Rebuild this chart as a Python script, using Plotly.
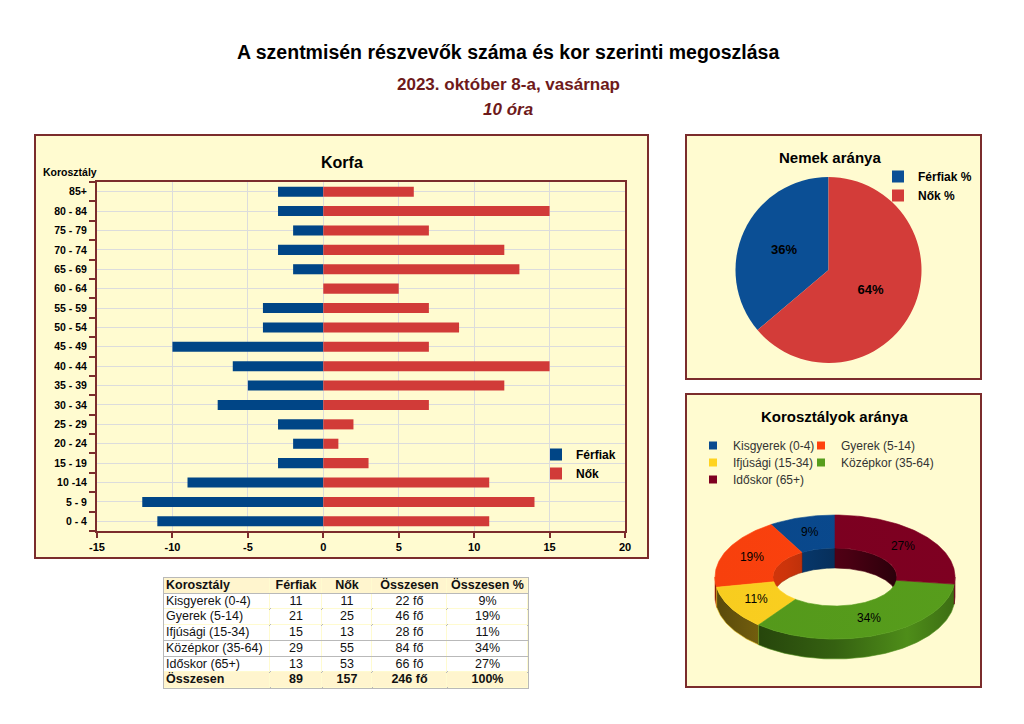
import numpy as np
import plotly.graph_objects as go

# ---------------- DATA ----------------
age_groups = ['0 - 4', '5 - 9', '10 -14', '15 - 19', '20 - 24', '25 - 29', '30 - 34',
              '35 - 39', '40 - 44', '45 - 49', '50 - 54', '55 - 59', '60 - 64',
              '65 - 69', '70 - 74', '75 - 79', '80 - 84', '85+']
men_by_age = [11, 12, 9, 3, 2, 3, 7, 5, 6, 10, 4, 4, 0, 2, 3, 2, 3, 3]
women_by_age = [11, 14, 11, 3, 1, 2, 7, 12, 15, 7, 9, 7, 5, 13, 12, 7, 15, 6]
x_tick_values = [-15, -10, -5, 0, 5, 10, 15, 20]

gender_labels = ['Férfiak %', 'Nők %']

cohort_labels = ['Kisgyerek (0-4)', 'Gyerek (5-14)', 'Ifjúsági (15-34)',
                 'Középkor (35-64)', 'Időskor (65+)']
cohort_men = [11, 21, 15, 29, 13]
cohort_women = [11, 25, 13, 55, 53]

table_header = ['Korosztály', 'Férfiak', 'Nők', 'Összesen', 'Összesen %']
total_label = 'Összesen'

# ---------------- STYLE ----------------
W, H = 1024, 724
FONT = 'Liberation Sans'
PANEL_FILL = '#fffbd0'
PANEL_LINE = '#7b2c2c'
GRID = '#dcdcdc'
PYR_BLUE = '#004586'
PYR_RED = '#d13b38'
PIE_COLORS = ['#0b4f95', '#d33c39']
DONUT_COLORS = ['#0a4a8f', '#ff420e', '#ffd320', '#579d1c', '#7e0021']
TABLE_COL_WIDTHS = [106, 52, 50, 75, 81]
TABLE_LINE = '#b9b9b9'
TABLE_HILITE = '#fff5ce'


def px(x):
    return x / W


def py(y):
    return 1 - y / H


def shade(hexc, f):
    r, g, b = int(hexc[1:3], 16), int(hexc[3:5], 16), int(hexc[5:7], 16)
    return 'rgb(%d,%d,%d)' % (min(255, r * f), min(255, g * f), min(255, b * f))


fig = go.Figure()

# ---------------- PYRAMID ----------------
yidx = list(range(len(age_groups)))
fig.add_trace(go.Bar(y=yidx, x=[-v for v in men_by_age], orientation='h', name='Férfiak',
                     marker=dict(color=PYR_BLUE, line=dict(width=0)), legend='legend',
                     hoverinfo='skip'))
fig.add_trace(go.Bar(y=yidx, x=women_by_age, orientation='h', name='Nők',
                     marker=dict(color=PYR_RED, line=dict(width=0)), legend='legend',
                     hoverinfo='skip'))

# ---------------- GENDER PIE ----------------
gender_totals = [sum(cohort_men), sum(cohort_women)]
men_share = gender_totals[0] / sum(gender_totals)
pie_cx, pie_cy, pie_r = 828.5, 270, 93
fig.add_trace(go.Pie(labels=gender_labels, values=gender_totals, sort=False,
                     direction='clockwise', rotation=-360 * men_share,
                     marker=dict(colors=PIE_COLORS, line=dict(width=0)),
                     texttemplate='%{percent:.0%}', textposition='inside',
                     insidetextorientation='horizontal',
                     textfont=dict(size=13, color='black', family=FONT, weight='bold'),
                     domain=dict(x=[px(pie_cx - pie_r), px(pie_cx + pie_r)],
                                 y=[py(pie_cy + pie_r), py(pie_cy - pie_r)]),
                     legend='legend2', hoverinfo='skip'))

# ---------------- 3D DONUT (drawn on xaxis2/yaxis2) ----------------
cohort_totals = [m + w for m, w in zip(cohort_men, cohort_women)]
grand_total = sum(cohort_totals)
shares = [t / grand_total for t in cohort_totals]
cum = np.concatenate([[0], np.cumsum(shares)])
starts = 90 + 360 * cum[:-1]
ends = 90 + 360 * cum[1:]

A, B = 120, 62      # outer ellipse semi-axes (px)
AH, BH = 62, 29     # hole ellipse semi-axes (px)
DEPTH = 20
CY = 8


def arc(t1, t2, rx, ry, dy=0.0):
    n = max(3, int(abs(t2 - t1) / 1.0) + 2)
    ts = np.radians(np.linspace(t1, t2, n))
    return rx * np.cos(ts), CY + ry * np.sin(ts) + dy


def intervals(ts, te, lo, hi):
    out = []
    for k in (-1, 0, 1, 2):
        a, b = max(ts, lo + 360 * k), min(te, hi + 360 * k)
        if b > a:
            out.append((a, b))
    return out


def poly_trace(x, y, grad):
    return go.Scatter(x=np.append(x, x[0]), y=np.append(y, y[0]), mode='lines',
                      fill='toself', line=dict(width=0.6, color=grad[len(grad) // 2][1]),
                      fillgradient=dict(type='horizontal', colorscale=grad, start=-A, stop=A),
                      xaxis='x2', yaxis='y2', showlegend=False, hoverinfo='skip')


# outer walls (front half)
for c, ts, te in zip(DONUT_COLORS, starts, ends):
    for a, b in intervals(ts, te, 180, 360):
        x1, y1 = arc(a, b, A, B)
        x2, y2 = arc(b, a, A, B, -DEPTH)
        grad = [[0, shade(c, 0.35)], [0.5, shade(c, 0.62)], [0.8, shade(c, 0.9)], [1, shade(c, 0.7)]]
        fig.add_trace(poly_trace(np.concatenate([x1, x2]), np.concatenate([y1, y2]), grad))

# inner walls (back half of the hole)
for c, ts, te in zip(DONUT_COLORS, starts, ends):
    for a, b in intervals(ts, te, 0, 180):
        x1, y1 = arc(a, b, AH, BH)
        x2, y2 = arc(b, a, AH, BH, -DEPTH)
        grad = [[0, shade(c, 0.9)], [0.3, shade(c, 0.8)], [0.55, shade(c, 0.6)], [0.75, shade(c, 0.35)], [1, shade(c, 0.3)]]
        fig.add_trace(poly_trace(np.concatenate([x1, x2]), np.concatenate([y1, y2]), grad))

# top faces
for c, ts, te in zip(DONUT_COLORS, starts, ends):
    x1, y1 = arc(ts, te, A, B)
    x2, y2 = arc(te, ts, AH, BH)
    grad = [[0, shade(c, 0.97)], [1, shade(c, 1.0)]]
    fig.add_trace(poly_trace(np.concatenate([x1, x2]), np.concatenate([y1, y2]), grad))

# labels
mids = np.radians((starts + ends) / 2)
fig.add_trace(go.Scatter(x=(A + AH) / 2 * np.cos(mids), y=CY + (B + BH) / 2 * np.sin(mids),
                         mode='text', text=['%d%%' % round(s * 100) for s in shares],
                         textfont=dict(size=12, color='black', family=FONT),
                         xaxis='x2', yaxis='y2', showlegend=False, hoverinfo='skip'))

# legend entries for donut: one small legend per entry, laid out in two columns
donut_legend_ids = ['legend%d' % (3 + i) for i in range(len(cohort_labels))]
for c, lab, lid in zip(DONUT_COLORS, cohort_labels, donut_legend_ids):
    fig.add_trace(go.Scatter(x=[None], y=[None], mode='markers', name=lab,
                             marker=dict(symbol='square', size=8, color=c),
                             xaxis='x2', yaxis='y2', legend=lid, hoverinfo='skip'))

# ---------------- TABLE (drawn on xaxis3/yaxis3) ----------------
men_total = sum(cohort_men)
women_total = sum(cohort_women)
rows = [table_header]
for lab, m, w, t in zip(cohort_labels, cohort_men, cohort_women, cohort_totals):
    rows.append([lab, str(m), str(w), '%d fő' % t, '%d%%' % round(100 * t / grand_total)])
rows.append([total_label, str(men_total), str(women_total), '%d fő' % grand_total,
             '%d%%' % round(100 * grand_total / grand_total)])
nrows = len(rows)
bold_rows = {0, nrows - 1}
col_edges = np.concatenate([[0], np.cumsum(TABLE_COL_WIDTHS)])
col_mid = (col_edges[:-1] + col_edges[1:]) / 2

# cell backgrounds
zfill = [[1 if r in bold_rows else 0 for _ in TABLE_COL_WIDTHS] for r in range(nrows)]
fig.add_trace(go.Heatmap(z=zfill, x=col_edges, y=np.arange(nrows + 1) - 0.5,
                         colorscale=[[0, 'white'], [1, TABLE_HILITE]], zmin=0, zmax=1,
                         xgap=1, ygap=1,
                         showscale=False, xaxis='x3', yaxis='y3', hoverinfo='skip'))
# cell texts
for ci in range(len(TABLE_COL_WIDTHS)):
    texts = [('<b>%s</b>' % rows[r][ci]) if r in bold_rows else rows[r][ci] for r in range(nrows)]
    left = ci == 0
    fig.add_trace(go.Scatter(
        x=[col_edges[ci] + 2 if left else col_mid[ci]] * nrows, y=list(range(nrows)),
        mode='text', text=texts, textposition='middle right' if left else 'middle center',
        textfont=dict(size=12.5, color='#111111', family=FONT),
        xaxis='x3', yaxis='y3', showlegend=False, hoverinfo='skip'))

# ---------------- LAYOUT ----------------
shapes = []
for (x0, y0, x1, y1) in [(35, 135, 648, 558), (686, 135, 981, 379), (686, 394, 981, 687)]:
    shapes.append(dict(type='rect', xref='paper', yref='paper', x0=px(x0), x1=px(x1),
                       y0=py(y1), y1=py(y0), fillcolor=PANEL_FILL,
                       line=dict(color=PANEL_LINE, width=2), layer='below'))


def ann(text, x, y, size, color='black', bold=True, italic=False, xanchor='center'):
    return dict(text=text, x=px(x), y=py(y), xref='paper', yref='paper', showarrow=False,
                xanchor=xanchor, yanchor='middle',
                font=dict(size=size, color=color, family=FONT,
                          weight='bold' if bold else 'normal',
                          style='italic' if italic else 'normal'))


annotations = [
    ann('A szentmisén részvevők száma és kor szerinti megoszlása', 508, 52, 19.5),
    ann('2023. október 8-a, vasárnap', 508, 84, 17, color='#6e1a1a'),
    ann('10 óra', 508, 109, 17, color='#6e1a1a', italic=True),
    ann('Korfa', 342, 162, 16),
    ann('Korosztály', 41, 172, 10.5, xanchor='left'),
    ann('Nemek aránya', 830, 158, 15),
    ann('Korosztályok aránya', 834, 417, 15),
]

leg_common = dict(xanchor='left', yanchor='top', bgcolor='rgba(0,0,0,0)',
                  traceorder='normal')
donut_leg_font = dict(size=12, family=FONT, color='#333333')
donut_leg_pos = [(693, 431), (801, 431), (693, 448), (801, 448), (693, 465)]

TBL_X0, TBL_Y0, TBL_Y1 = 164, 578, 688

layout_kw = dict(
    width=W, height=H, autosize=False,
    margin=dict(l=0, r=0, t=0, b=0, autoexpand=False),
    paper_bgcolor='white', plot_bgcolor=PANEL_FILL,
    font=dict(family=FONT, color='black'),
    barmode='relative', bargap=0.48,
    shapes=shapes, annotations=annotations,
    xaxis=dict(domain=[px(97), px(625)], range=[-15, 20], tickvals=x_tick_values,
               ticktext=[str(v) for v in x_tick_values], showgrid=True, gridcolor=GRID,
               gridwidth=1, zeroline=False, showline=True, linecolor=PANEL_LINE,
               linewidth=2, mirror=True, ticks='outside', ticklen=5,
               tickcolor=PANEL_LINE, tickwidth=2, automargin=False, anchor='y',
               tickfont=dict(size=11, family=FONT, weight='bold', color='black'),
               fixedrange=True),
    yaxis=dict(domain=[py(531), py(182)], range=[-0.5, len(age_groups) - 0.5],
               tickvals=yidx, ticktext=age_groups, showgrid=True, gridcolor=GRID,
               gridwidth=1, zeroline=False, showline=True, linecolor=PANEL_LINE,
               linewidth=2, mirror=True, ticks='', ticklabelstandoff=6, automargin=False,
               anchor='x',
               minor=dict(tick0=-0.5, dtick=1, ticks='outside', ticklen=6,
                          tickcolor=PANEL_LINE, tickwidth=2, showgrid=False),
               tickfont=dict(size=10.5, family=FONT, weight='bold', color='black'),
               fixedrange=True),
    xaxis2=dict(domain=[px(705), px(965)], range=[-130, 130], visible=False,
                anchor='y2', fixedrange=True),
    yaxis2=dict(domain=[py(665), py(505)], range=[-80, 80], visible=False,
                anchor='x2', fixedrange=True),
    xaxis3=dict(domain=[px(TBL_X0), px(TBL_X0 + col_edges[-1])], range=[0, col_edges[-1]],
                tickvals=col_edges, showticklabels=False, ticks='', showgrid=True,
                gridcolor=TABLE_LINE, gridwidth=1, zeroline=False, showline=True,
                linecolor=TABLE_LINE, linewidth=1, mirror=True, automargin=False,
                anchor='y3', fixedrange=True),
    yaxis3=dict(domain=[py(TBL_Y1), py(TBL_Y0)], range=[nrows - 0.5, -0.5],
                tickvals=np.arange(nrows + 1) - 0.5, showticklabels=False, ticks='',
                showgrid=True, gridcolor=TABLE_LINE, gridwidth=1, zeroline=False,
                showline=True, linecolor=TABLE_LINE, linewidth=1, mirror=True,
                automargin=False, anchor='x3', fixedrange=True),
    legend=dict(x=px(536), y=py(440), **leg_common,
                font=dict(size=12, family=FONT, weight='bold', color='black')),
    legend2=dict(x=px(878), y=py(162), **leg_common,
                 font=dict(size=12, family=FONT, weight='bold', color='black')),
    showlegend=True,
)
for lid, (lx, ly) in zip(donut_legend_ids, donut_leg_pos):
    layout_kw[lid] = dict(x=px(lx), y=py(ly), **leg_common, font=donut_leg_font)

fig.update_layout(**layout_kw)

fig.write_html('out.html', config={'responsive': False, 'displayModeBar': False},
               post_script="document.body.style.margin='0px';"
                           "document.body.style.overflow='hidden';")
